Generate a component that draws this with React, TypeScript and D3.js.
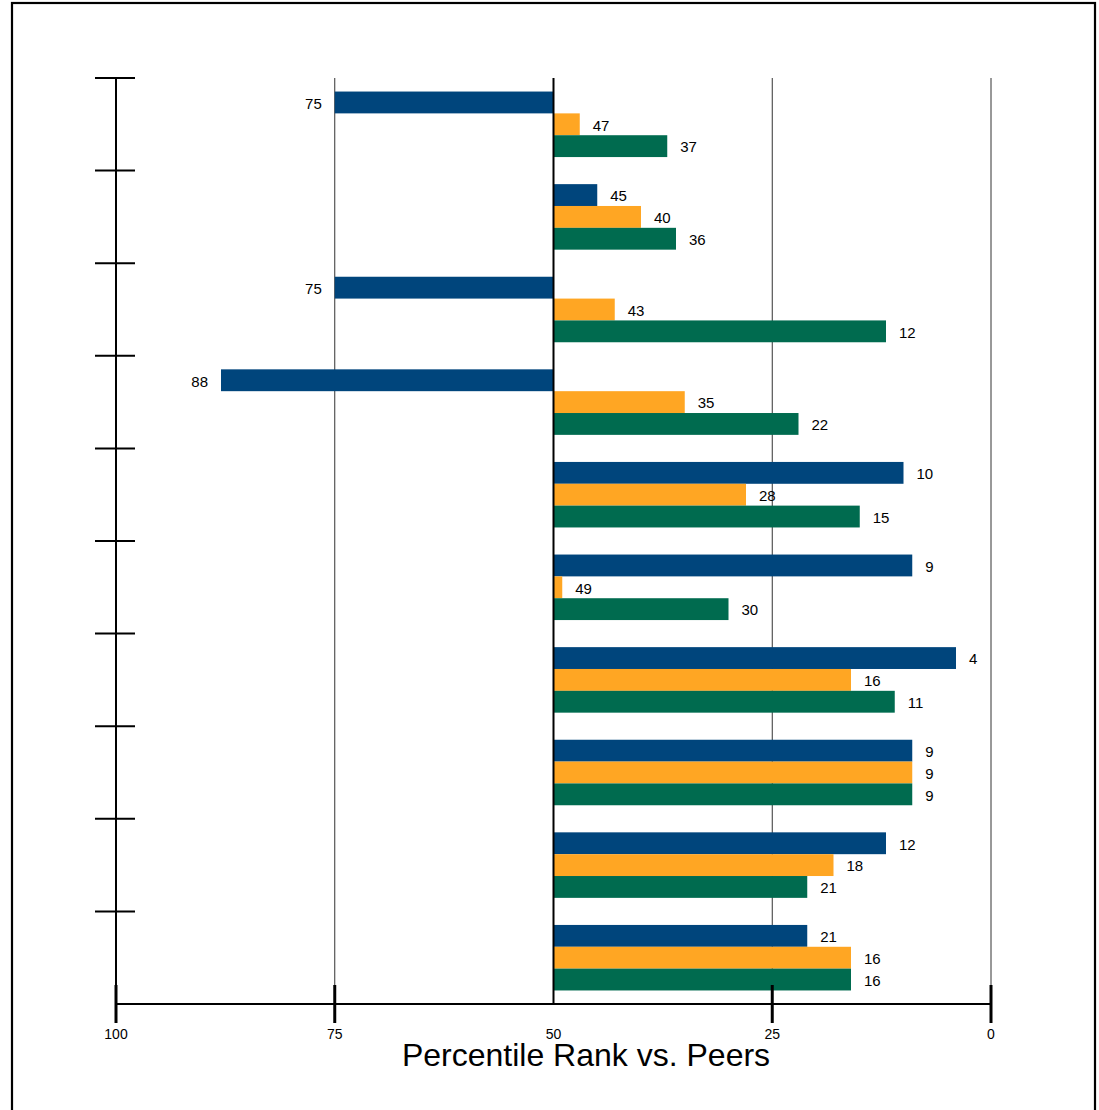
import React from "react";
import * as d3 from "d3";

const groups = ["G1", "G2", "G3", "G4", "G5", "G6", "G7", "G8", "G9", "G10"];
const seriesNames = ["Series A", "Series B", "Series C"];
const seriesA = [75, 45, 75, 88, 10, 9, 4, 9, 12, 21];
const seriesB = [47, 40, 43, 35, 28, 49, 16, 9, 18, 16];
const seriesC = [37, 36, 12, 22, 15, 30, 11, 9, 21, 16];
const colors = ["#00457C", "#FFA623", "#006B4F"];
const xTicks = [100, 75, 50, 25, 0];
const title = "Percentile Rank vs. Peers";

const W = 1099;
const H = 1110;
const FONT = "Arial, 'Liberation Sans', sans-serif";

export default function App() {
  const x = d3.scaleLinear().domain([100, 0]).range([116, 991]);
  const y = d3.scaleBand<string>().domain(groups).range([78, 1004]).paddingInner(0).paddingOuter(0);
  const inner = d3
    .scaleBand<string>()
    .domain(seriesNames)
    .range([0, y.bandwidth()])
    .paddingInner(0)
    .paddingOuter(0.62);
  const data = [seriesA, seriesB, seriesC];
  const base = 50;

  const bars: any[] = [];
  groups.forEach((g, gi) => {
    seriesNames.forEach((s, si) => {
      const v = data[si][gi];
      const x0 = x(base);
      const x1 = x(v);
      const yy = (y(g) as number) + (inner(s) as number);
      const h = inner.bandwidth();
      const right = x1 >= x0;
      const lx = right ? x1 + 13 : x1 - 13;
      const text = String(v);
      const tw = text.length * 8.4;
      bars.push({ key: g + s, v, x0, x1, yy, h, color: colors[si], right, lx, text, tw });
    });
  });

  const yTickPos = groups.map((g) => y(g) as number);

  return (
    <svg
      width={W}
      height={H}
      style={{ position: "absolute", left: 0, top: 0, background: "#fff" }}
      fontFamily={FONT}
    >
      <rect x={0} y={0} width={W} height={H} fill="#fff" />
      {/* frame */}
      <rect x={12} y={3} width={1083} height={1130} fill="none" stroke="#000" strokeWidth={2.2} />

      {/* label backgrounds */}
      {bars.map((b) => (
        <rect
          key={"bg" + b.key}
          x={b.right ? b.lx - 4 : b.lx - b.tw - 4}
          y={b.yy + 1}
          width={b.tw + 8}
          height={b.h - 2}
          fill="#fff"
        />
      ))}

      {/* gridlines */}
      {xTicks
        .filter((t) => t !== 50 && t !== 100)
        .map((t) => (
          <line key={"g" + t} x1={x(t)} x2={x(t)} y1={78} y2={1004} stroke="#333" strokeWidth={1} />
        ))}

      {/* bars */}
      {bars.map((b) => (
        <rect
          key={"r" + b.key}
          x={Math.min(b.x0, b.x1)}
          y={b.yy}
          width={Math.abs(b.x1 - b.x0)}
          height={b.h}
          fill={b.color}
        />
      ))}

      {/* zero line */}
      <line x1={x(50)} x2={x(50)} y1={78} y2={1004} stroke="#000" strokeWidth={2} />

      {/* value labels */}
      {bars.map((b) => (
        <text
          key={"t" + b.key}
          x={b.lx}
          y={b.yy + b.h / 2 + 1}
          dy="0.35em"
          textAnchor={b.right ? "start" : "end"}
          fontSize={15}
          fill="#000"
        >
          {b.text}
        </text>
      ))}

      {/* y axis */}
      <line x1={116} x2={116} y1={78} y2={1004} stroke="#000" strokeWidth={2} />
      {yTickPos.map((p, i) => (
        <line key={"yt" + i} x1={95} x2={135} y1={p} y2={p} stroke="#000" strokeWidth={2} />
      ))}

      {/* x axis */}
      <line x1={116} x2={991} y1={1004} y2={1004} stroke="#000" strokeWidth={2} />
      {xTicks.map((t) => (
        <g key={"xt" + t}>
          {t !== 50 && (
            <line x1={x(t)} x2={x(t)} y1={985} y2={1023} stroke="#000" strokeWidth={3} />
          )}
          <text x={x(t)} y={1034} dy="0.35em" textAnchor="middle" fontSize={14} fill="#000">
            {t}
          </text>
        </g>
      ))}

      {/* title */}
      <text x={586} y={1066} textAnchor="middle" fontSize={32} fill="#000">
        {title}
      </text>
    </svg>
  );
}
